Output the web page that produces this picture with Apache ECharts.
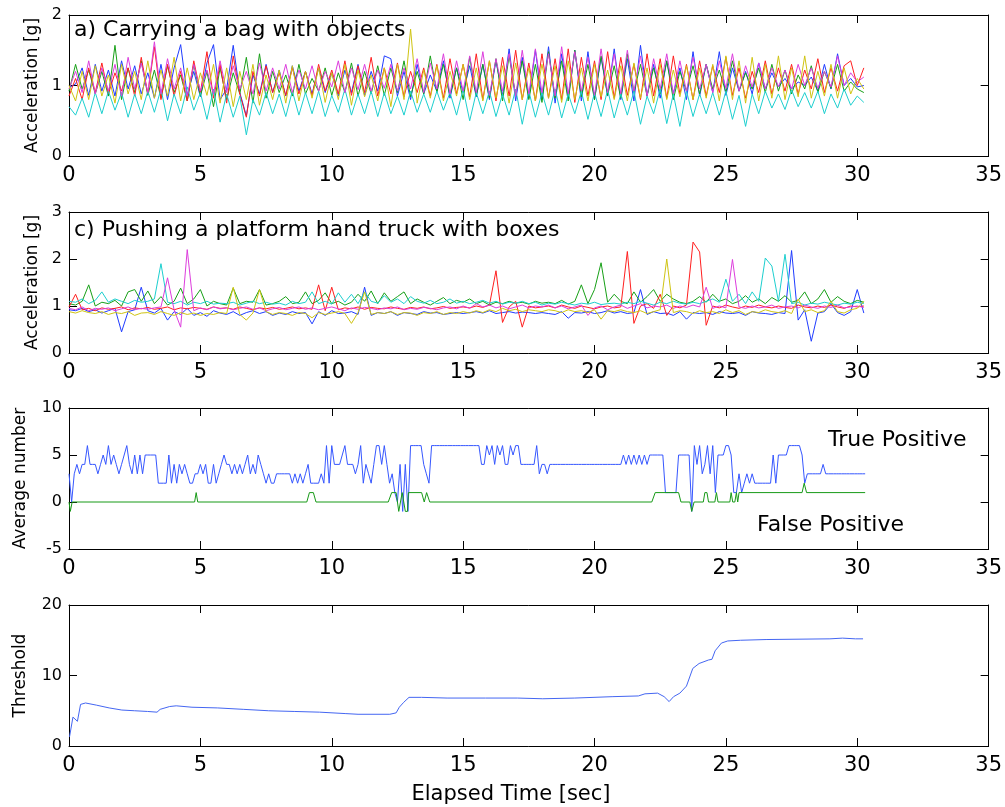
<!DOCTYPE html>
<html lang="en">
<head>
<meta charset="UTF-8">
<title>Detection</title>
<script src="https://cdn.jsdelivr.net/npm/echarts@6.0.0/dist/echarts.min.js"></script>
<style>body{margin:0;background:#fff}#main{width:1005px;height:807px}</style>
</head>
<body>
<div id="main"></div>
<script>
// sample step (s) used for the acceleration traces of panels a) and c)
var dtAcc = 0.25;
// sample step (s) for the true positive trace
var dtTP = 0.1;

// a) Carrying a bag with objects
var bagBlue = [
  0.97,1.02,1.25,0.86,1.30,0.92,1.22,0.85,1.35,0.95,1.28,0.88,
  1.18,0.82,1.30,0.80,1.25,1.58,0.86,1.20,0.84,1.32,1.58,0.80,
  0.95,1.57,0.90,0.57,1.15,0.88,1.30,0.90,1.22,0.85,1.28,0.92,
  1.20,0.88,1.25,0.90,1.18,0.85,1.22,0.90,1.30,0.86,1.20,0.92,
  1.42,1.38,0.85,1.20,0.80,1.30,0.88,1.15,0.92,1.35,0.82,1.25,
  0.90,1.28,0.84,1.30,0.80,1.35,0.85,1.52,0.78,1.40,0.82,1.50,
  0.80,1.55,0.75,1.45,0.82,1.50,0.78,1.48,0.80,1.40,0.85,1.52,
  0.80,1.38,0.78,1.57,0.85,1.30,0.82,1.35,0.88,1.25,0.80,1.48,
  0.85,1.30,0.90,1.48,0.86,1.25,0.92,1.20,0.88,1.32,0.95,1.18,
  0.98,1.10,0.95,1.05,1.00,1.12,0.92,1.30,0.95,1.45,1.00,1.10,
  0.98,1.00];
var bagGreen = [
  0.92,1.30,0.95,1.22,0.88,1.20,0.85,1.57,0.80,1.25,0.90,1.35,
  0.86,1.22,0.82,1.28,0.90,1.15,0.78,1.30,0.85,1.20,0.70,1.25,
  0.80,1.18,0.88,1.40,0.75,1.45,0.82,1.20,0.90,1.15,0.85,1.30,
  0.88,1.10,0.92,1.25,0.86,1.18,0.90,1.32,0.85,1.20,0.88,1.28,
  0.86,1.25,0.90,1.35,0.84,1.20,0.88,1.42,0.90,1.30,0.85,1.25,
  0.80,1.40,0.85,1.30,0.82,1.38,0.78,1.42,0.86,1.35,0.80,1.30,
  0.76,1.48,0.82,1.35,0.78,1.50,0.84,1.30,0.80,1.42,0.86,1.28,
  0.82,1.45,0.90,1.30,0.85,1.25,0.88,1.35,0.80,1.20,0.92,1.28,
  0.88,1.30,0.95,1.22,0.90,1.35,0.92,1.18,0.95,1.25,0.90,1.30,
  0.92,1.22,0.88,1.15,0.95,1.28,0.90,1.20,0.96,1.30,0.92,1.05,
  0.95,0.90];
var bagRed = [
  0.85,1.10,0.80,1.25,0.90,1.32,0.88,1.18,0.92,1.25,0.85,1.40,
  0.88,1.55,0.80,1.30,0.85,1.20,0.78,1.35,0.90,1.48,0.82,1.30,
  0.75,1.42,0.88,0.55,1.20,0.85,1.28,0.90,1.18,0.86,1.25,0.88,
  1.20,0.85,1.30,0.92,1.22,0.88,1.35,0.86,1.28,0.90,1.40,0.85,
  1.25,0.88,1.32,0.84,1.20,0.90,1.25,0.85,1.30,0.82,1.38,0.88,
  1.30,0.84,1.45,0.80,1.35,0.78,1.40,0.85,1.50,0.80,1.32,0.78,
  1.45,0.82,1.38,0.80,1.52,0.76,1.40,0.85,1.35,0.80,1.48,0.82,
  1.40,0.86,1.30,0.80,1.45,0.85,1.38,0.82,1.42,0.88,1.30,0.80,
  1.35,0.85,1.28,0.90,1.40,0.86,1.25,0.82,1.20,0.90,1.35,0.88,
  1.25,0.92,1.30,0.88,1.22,0.95,1.38,0.90,1.25,0.92,1.28,1.35,
  1.00,1.25];
var bagCyan = [
  0.70,0.58,0.82,0.55,0.90,0.60,0.92,0.65,0.90,0.55,0.88,0.60,
  0.92,0.62,0.95,0.50,0.88,0.60,0.98,0.65,0.90,0.52,0.95,0.48,
  0.88,0.55,0.85,0.30,0.80,0.58,0.90,0.60,0.88,0.56,0.92,0.58,
  0.90,0.60,0.92,0.56,0.86,0.62,0.95,0.58,0.88,0.60,0.92,0.56,
  0.90,0.60,0.85,0.58,0.92,0.62,0.88,0.62,0.92,0.65,0.90,0.58,
  0.95,0.50,0.90,0.60,0.92,0.56,0.88,0.58,0.95,0.45,0.92,0.55,
  0.90,0.58,0.95,0.54,0.88,0.60,0.92,0.52,0.90,0.56,0.94,0.54,
  0.88,0.58,0.92,0.45,0.85,0.60,0.95,0.46,0.88,0.42,0.92,0.56,
  0.88,0.60,0.90,0.58,0.92,0.52,0.86,0.42,0.88,0.60,0.92,0.68,
  0.88,0.66,0.94,0.70,0.90,0.68,0.92,0.60,0.88,0.68,0.95,0.72,
  0.85,0.76];
var bagMagenta = [
  0.95,1.20,0.90,1.35,0.88,1.25,0.92,1.30,0.85,1.40,0.95,1.32,
  0.90,1.62,0.88,1.38,0.95,1.25,0.85,1.30,0.92,1.22,0.88,1.35,
  0.90,1.28,0.95,1.20,0.88,1.32,0.92,1.25,0.95,1.30,0.90,1.22,
  0.95,1.28,0.92,1.20,0.98,1.35,0.90,1.25,0.94,1.30,0.92,1.22,
  0.96,1.30,0.92,1.25,0.95,1.38,0.90,1.32,0.95,1.45,0.88,1.35,
  0.92,1.42,0.90,1.48,0.86,1.38,0.92,1.45,0.85,1.50,0.88,1.52,
  0.90,1.45,0.85,1.55,0.88,1.48,0.92,1.40,0.86,1.52,0.90,1.45,
  0.88,1.50,0.92,1.42,0.85,1.38,0.95,1.45,0.88,1.35,0.92,1.40,
  0.95,1.30,0.90,1.35,0.96,1.45,0.92,1.28,0.98,1.32,0.95,1.25,
  0.98,1.22,0.95,1.30,1.00,1.25,0.96,1.20,0.98,1.42,1.00,1.18,
  1.05,1.12];
var bagYellow = [
  1.00,0.78,1.20,0.80,1.28,0.85,1.15,0.75,1.30,0.88,1.20,0.80,
  1.35,0.82,1.22,0.85,1.40,0.78,1.25,0.80,1.18,0.86,1.30,0.75,
  1.25,0.70,1.20,0.80,1.30,0.72,1.15,0.80,1.22,0.75,1.28,0.78,
  1.20,0.82,1.25,0.76,1.18,0.80,1.30,0.72,1.22,0.84,1.15,0.78,
  1.25,0.70,1.30,0.80,1.80,0.75,1.22,0.82,1.28,0.78,1.20,0.85,
  1.30,0.80,1.25,0.78,1.35,0.82,1.28,0.75,1.32,0.80,1.25,0.78,
  1.30,0.82,1.28,0.76,1.35,0.80,1.25,0.78,1.30,0.84,1.22,0.80,
  1.28,0.78,1.32,0.82,1.25,0.75,1.30,0.80,1.22,0.84,1.28,0.80,
  1.25,0.82,1.30,0.78,1.42,0.80,1.35,0.75,1.40,0.78,1.30,0.82,
  1.42,0.80,1.25,0.84,1.42,0.82,1.20,0.85,1.30,0.82,1.25,0.88,
  1.10,0.95];

// c) Pushing a platform hand truck with boxes
var cartBlue = [
  0.92,0.90,0.95,0.88,0.92,0.85,0.90,0.95,0.45,0.88,0.92,1.40,
  0.90,0.85,0.95,0.70,0.88,0.82,0.95,0.80,0.86,0.78,0.90,0.85,
  0.82,0.88,0.80,0.86,0.90,0.84,0.88,0.80,0.85,0.82,0.88,0.84,
  0.86,0.62,0.88,0.80,0.90,0.84,0.85,0.88,0.82,1.40,0.80,0.86,
  0.84,0.88,0.80,0.86,0.84,0.82,0.88,0.85,0.86,0.82,0.84,0.86,
  0.84,0.86,0.88,0.85,0.90,0.84,0.86,0.88,0.85,0.87,0.86,0.84,
  0.86,0.84,0.82,0.88,0.74,0.86,0.85,0.88,0.84,0.86,0.90,0.85,
  0.88,0.84,0.86,1.35,0.82,0.88,0.84,0.85,0.80,0.88,0.72,0.86,
  0.84,0.86,0.82,0.88,0.85,0.84,0.86,0.80,0.88,0.85,0.84,0.82,
  0.86,0.84,2.18,0.70,0.92,0.25,0.85,0.88,1.05,0.86,0.80,0.88,
  1.35,0.85];
var cartGreen = [
  1.05,1.02,1.10,1.45,1.00,1.08,1.05,1.12,1.00,1.30,1.35,1.10,
  1.32,1.05,1.20,1.02,1.10,1.38,1.05,1.15,1.35,1.00,1.10,1.05,
  1.02,1.38,1.05,1.10,1.08,1.35,1.02,1.05,1.10,1.20,1.05,1.08,
  1.30,1.05,1.12,1.28,1.05,1.10,1.02,1.08,1.25,1.10,1.32,1.05,
  1.28,1.10,1.20,1.30,1.05,1.15,1.08,1.02,1.10,1.18,1.05,1.12,
  1.08,1.15,1.05,1.10,1.02,1.08,1.05,1.10,1.06,1.08,1.04,1.10,
  1.06,1.08,1.05,1.12,1.04,1.10,1.45,1.05,1.35,1.92,1.08,1.25,
  1.10,1.05,1.30,1.08,1.20,1.35,1.10,1.25,1.15,1.08,1.05,1.10,
  1.20,1.08,1.25,1.10,1.15,1.05,1.10,1.22,1.08,1.15,1.05,1.18,
  1.10,1.22,1.08,1.12,1.30,1.05,1.15,1.35,1.08,1.20,1.10,1.05,
  1.12,1.08];
var cartRed = [
  0.98,1.25,0.92,0.95,0.90,0.96,0.93,0.95,0.98,0.92,0.96,0.94,
  0.97,0.93,0.95,0.98,0.92,0.96,0.94,0.97,0.95,0.93,0.98,0.95,
  0.96,0.93,0.98,0.95,0.92,0.96,0.94,0.97,0.93,0.95,0.98,0.94,
  0.96,0.93,1.45,0.90,1.40,0.92,0.96,0.94,0.98,0.93,0.97,0.95,
  0.94,0.98,0.95,0.93,0.97,0.95,0.98,0.94,0.96,0.99,0.95,0.97,
  0.98,0.96,1.00,0.97,1.02,1.75,0.65,0.98,1.10,0.55,1.00,0.96,
  0.98,1.00,0.96,1.02,0.98,0.95,1.00,0.97,0.94,0.98,1.00,0.96,
  0.98,2.16,0.63,1.00,1.05,0.95,1.25,0.80,1.00,0.96,1.02,2.36,
  2.15,0.59,1.00,0.96,1.02,0.98,0.95,1.00,0.97,1.02,0.98,0.96,
  1.00,0.97,0.95,1.02,0.98,0.96,1.00,0.97,1.02,0.98,0.95,1.00,
  0.98,1.00];
var cartCyan = [
  1.10,1.08,1.15,1.05,1.12,1.30,1.08,1.15,1.10,1.05,1.12,1.08,
  1.10,1.15,1.90,1.08,1.05,1.10,1.02,1.08,1.05,1.10,1.04,1.06,
  1.05,1.08,1.02,1.06,1.10,1.05,1.08,1.04,1.06,1.02,1.10,1.05,
  1.08,1.30,1.05,1.10,1.04,1.28,1.08,1.25,1.05,1.30,1.10,1.06,
  1.22,1.08,1.15,1.05,1.20,1.10,1.06,1.12,1.05,1.08,1.15,1.06,
  1.10,1.05,1.08,1.12,1.06,1.10,1.04,1.08,1.06,1.10,1.05,1.08,
  1.02,1.06,1.04,1.08,1.05,1.02,1.06,1.04,1.08,1.03,1.05,1.06,
  1.04,1.08,1.05,1.10,1.06,1.02,1.08,1.05,1.10,1.06,1.04,1.08,
  1.05,1.10,1.15,1.08,1.57,1.10,1.25,1.05,1.30,1.10,2.02,1.85,
  1.10,2.10,1.05,1.08,1.02,1.06,1.04,1.08,1.05,1.02,1.06,1.04,
  1.08,1.05];
var cartMagenta = [
  0.95,0.92,0.98,0.90,0.95,0.93,0.96,0.90,0.94,0.98,0.92,0.95,
  0.93,0.96,0.98,1.60,0.92,0.55,2.20,0.90,0.96,0.92,0.98,0.94,
  0.96,0.92,0.95,0.98,0.93,0.96,0.90,0.94,0.97,0.92,0.95,0.98,
  0.93,0.96,0.92,0.95,0.98,0.94,0.90,0.96,0.93,0.97,0.95,0.92,
  0.96,0.94,0.98,0.92,0.95,0.93,0.97,0.95,0.92,0.96,0.98,0.94,
  1.00,0.95,1.05,0.98,1.02,0.96,1.00,0.94,0.98,1.02,0.96,1.00,
  0.98,1.02,0.96,1.00,0.94,0.98,1.02,0.80,0.96,1.00,0.92,0.98,
  1.02,0.95,1.00,1.05,0.96,1.00,0.98,1.02,0.95,1.00,0.97,1.02,
  0.98,1.40,0.95,1.00,0.96,1.99,0.98,0.95,1.00,0.96,0.98,1.02,
  0.95,0.98,1.00,0.96,1.02,0.98,0.95,1.00,0.97,1.02,0.96,0.98,
  1.00,0.97];
var cartYellow = [
  0.88,0.85,0.90,0.86,0.84,0.88,0.82,0.86,0.84,0.88,0.80,0.85,
  0.86,0.82,0.88,0.84,0.80,0.86,0.82,0.85,0.80,0.84,0.82,0.86,
  0.84,1.40,0.82,0.70,0.85,1.35,0.88,0.82,0.86,0.84,0.80,0.86,
  0.84,0.75,0.86,0.82,0.85,0.88,0.84,0.63,0.86,1.30,0.82,0.86,
  0.84,0.88,0.82,0.86,0.85,0.80,0.86,0.84,0.88,0.82,0.86,0.84,
  0.88,0.85,0.90,0.86,0.92,0.88,0.95,0.90,0.93,0.88,0.92,0.90,
  0.88,0.92,0.90,0.86,0.92,0.88,0.90,0.86,0.92,0.72,0.90,0.88,
  0.92,0.88,0.86,0.90,0.84,0.88,0.92,2.00,0.86,0.90,0.88,0.84,
  0.90,0.86,0.88,0.84,0.92,0.86,0.90,0.82,0.88,0.86,0.92,0.88,
  0.86,0.90,0.84,1.15,0.88,0.92,0.86,0.90,1.10,0.88,0.85,0.92,
  0.95,1.10];

// average number of detections
var truePositive = [
  3,0,3,4,3,4,4,6,4,4, 4,3,4,5,4,6,4,5,4,3, 4,5,6,4,3,5,3,5,3,5,
  5,5,5,5,2,2,2,2,5,2, 4,2,4,3,4,3,2,2,3,3, 4,3,4,2,2,4,2,3,4,5,
  4,4,3,4,3,4,3,4,5,3, 4,3,5,4,3,2,3,2,2,3, 3,3,3,3,3,2,3,2,3,2,
  3,4,2,2,2,2,3,2,6,2, 6,4,4,4,5,6,4,4,4,3, 4,6,2,4,3,2,4,6,6,4,
  6,4,2,3,1,0,4,-1,4,-1, 6,6,6,6,6,4,3,2,6,6, 6,6,6,6,6,6,6,6,6,6,
  6,6,6,6,6,6,6,4,4,6, 5,6,4,6,5,6,4,4,6,5, 6,6,4,4,4,4,4,4,6,3,
  4,4,3,4,4,4,4,4,4,4, 4,4,4,4,4,4,4,4,4,4, 4,4,4,4,4,4,4,4,4,4,
  4,5,4,5,4,5,4,5,4,5, 4,5,5,5,5,5,5,1,1,1, 1,1,5,5,5,5,5,-1,6,4,
  6,3,4,6,3,6,1,5,5,5, 6,6,5,1,1,3,1,2,3,2, 3,2,2,2,2,2,2,2,5,2,
  5,5,5,5,6,6,6,6,6,5, 2,3,3,3,3,3,3,4,3,3, 3,3,3,3,3,3,3,3,3,3,
  3,3,3,3];
// [time, count] breakpoints
var falsePositive = [
  [0,0],[0.05,-1],[0.12,0],[4.78,0],[4.84,1],[4.9,0],[9.05,0],[9.15,1],[9.3,1],[9.4,0],
  [12.15,0],[12.28,1],[12.45,1],[12.55,-1],[12.62,-1],[12.68,1],[12.75,1],[12.8,-1],
  [12.88,-1],[12.92,1],[13.42,1],[13.52,0],[13.61,1],[13.73,0],[22.18,0],[22.31,1],
  [23.2,1],[23.29,0],[23.63,0],[23.7,-1],[23.79,0],[24.14,0],[24.2,1],[24.28,1],[24.34,0],
  [24.58,0],[24.64,1],[24.7,0],[25.15,0],[25.2,1],[25.26,0],[25.34,0],[25.4,1],[25.45,0],
  [25.5,1],[27.9,1],[27.98,2],[28.07,1],[30.3,1]];

// threshold [time, value]
var threshold = [
  [0.02,1.3],[0.15,4.1],[0.32,3.5],[0.44,5.9],[0.63,6.1],[1.04,5.8],[1.53,5.4],[2.01,5.1],
  [2.5,5.0],[2.99,4.9],[3.35,4.8],[3.47,5.2],[3.83,5.6],[4.08,5.7],[4.68,5.5],[5.66,5.4],
  [6.63,5.2],[7.6,5.0],[8.57,4.9],[9.54,4.8],[10.51,4.6],[11.0,4.5],[12.21,4.5],[12.45,4.7],
  [12.57,5.5],[12.74,6.2],[12.94,6.9],[13.42,6.9],[14.39,6.8],[15.85,6.8],[17.06,6.8],
  [18.03,6.7],[19.25,6.8],[20.7,7.0],[21.67,7.1],[21.92,7.4],[22.4,7.5],[22.65,7.0],
  [22.84,6.3],[23.01,7.0],[23.25,7.5],[23.5,8.5],[23.74,11.0],[23.98,11.7],[24.34,12.2],
  [24.47,12.3],[24.59,13.5],[24.83,14.6],[25.07,14.9],[25.56,15.0],[26.53,15.1],
  [28.96,15.2],[29.44,15.3],[29.93,15.2],[30.22,15.2]];

var font = 'DejaVu Sans';
var colors = {blue: '#1f3cff', green: '#17a017', red: '#ff1f1f', cyan: '#1ccfcf', magenta: '#dd3ddd', yellow: '#cfc412'};

function sampled(arr, dt) {
  return arr.map(function (v, i) { return [Math.round(i * dt * 100) / 100, v]; });
}

var grids = [
  {left: 69, right: 11, top: 15, height: 141},
  {left: 69, right: 11, top: 212, height: 141},
  {left: 69, right: 11, top: 408, height: 141},
  {left: 69, right: 11, top: 605, height: 141}
];
var yRanges = [[0, 2, 1, 'Acceleration [g]', 28], [0, 3, 1, 'Acceleration [g]', 28],
               [-5, 10, 5, 'Average number', 40], [0, 20, 10, 'Threshold', 40]];

var xAxes = [], yAxes = [];
grids.forEach(function (g, gi) {
  var tick = {show: true, inside: true, length: 8, lineStyle: {color: '#000'}};
  var line = {show: true, onZero: false, lineStyle: {color: '#000', width: 1}};
  xAxes.push({gridIndex: gi, type: 'value', min: 0, max: 35, interval: 5, position: 'bottom',
    axisLine: line, axisTick: tick, splitLine: {show: false},
    axisLabel: {fontFamily: font, fontSize: 21, color: '#000', margin: 9}});
  xAxes.push({gridIndex: gi, type: 'value', min: 0, max: 35, interval: 5, position: 'top',
    axisLine: line, axisTick: tick, splitLine: {show: false}, axisLabel: {show: false}});
  var r = yRanges[gi];
  yAxes.push({gridIndex: gi, type: 'value', min: r[0], max: r[1], interval: r[2], position: 'left',
    axisLine: line, axisTick: tick, splitLine: {show: false},
    axisLabel: {fontFamily: font, fontSize: 16, color: '#000', margin: 7},
    name: r[3], nameLocation: 'middle', nameRotate: 90, nameGap: r[4],
    nameTextStyle: {fontFamily: font, fontSize: 17, color: '#000'}});
  yAxes.push({gridIndex: gi, type: 'value', min: r[0], max: r[1], interval: r[2], position: 'right',
    axisLine: line, axisTick: tick, splitLine: {show: false}, axisLabel: {show: false}});
});

function lineSeries(data, gi, color) {
  return {type: 'line', data: data, xAxisIndex: gi * 2, yAxisIndex: gi * 2,
    showSymbol: false, symbol: 'none', lineStyle: {width: 1, color: color}, itemStyle: {color: color},
    silent: true};
}

var series = [
  lineSeries(sampled(bagBlue, dtAcc), 0, colors.blue),
  lineSeries(sampled(bagGreen, dtAcc), 0, colors.green),
  lineSeries(sampled(bagRed, dtAcc), 0, colors.red),
  lineSeries(sampled(bagCyan, dtAcc), 0, colors.cyan),
  lineSeries(sampled(bagMagenta, dtAcc), 0, colors.magenta),
  lineSeries(sampled(bagYellow, dtAcc), 0, colors.yellow),
  lineSeries(sampled(cartBlue, dtAcc), 1, colors.blue),
  lineSeries(sampled(cartGreen, dtAcc), 1, colors.green),
  lineSeries(sampled(cartRed, dtAcc), 1, colors.red),
  lineSeries(sampled(cartCyan, dtAcc), 1, colors.cyan),
  lineSeries(sampled(cartMagenta, dtAcc), 1, colors.magenta),
  lineSeries(sampled(cartYellow, dtAcc), 1, colors.yellow),
  lineSeries(sampled(truePositive, dtTP), 2, '#3657ff'),
  lineSeries(falsePositive, 2, '#179a17'),
  lineSeries(threshold, 3, '#4466f2')
];

var txt = function (x, y, text, size, align) {
  return {type: 'text', x: x, y: y, silent: true,
    style: {text: text, fontFamily: font, fontSize: size, fill: '#000',
      textAlign: align || 'left', textVerticalAlign: 'middle'}};
};

var myChart = echarts.init(document.getElementById('main'));
myChart.setOption({
  animation: false,
  backgroundColor: '#fff',
  grid: grids,
  xAxis: xAxes,
  yAxis: yAxes,
  series: series,
  graphic: [
    txt(74, 30, 'a) Carrying a bag with objects', 22),
    txt(74, 230, 'c) Pushing a platform hand truck with boxes', 22),
    txt(828, 440, 'True Positive', 22),
    txt(757, 525, 'False Positive', 22),
    txt(511, 795, 'Elapsed Time [sec]', 21, 'center')
  ]
});
</script>
</body>
</html>
